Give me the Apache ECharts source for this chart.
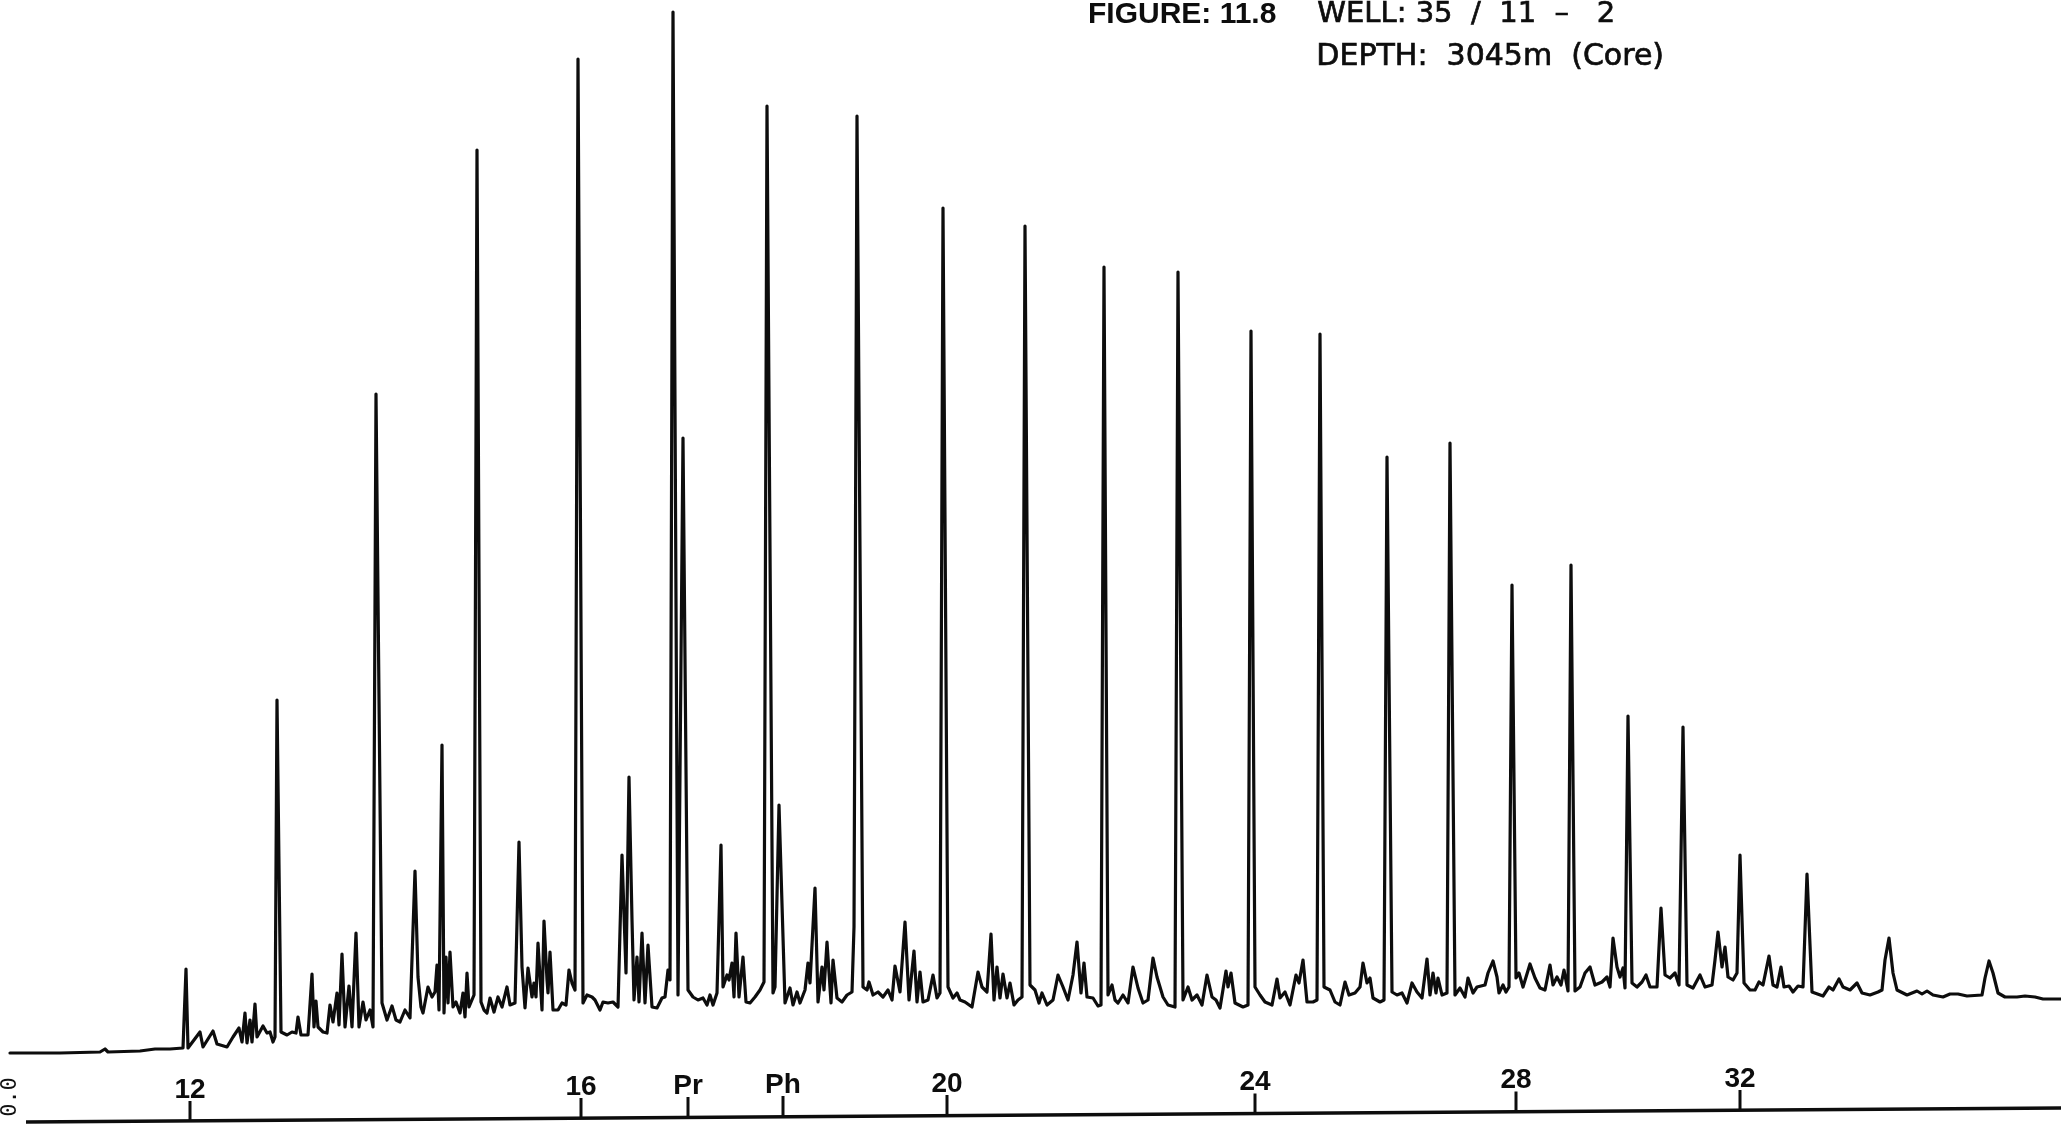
<!DOCTYPE html>
<html>
<head>
<meta charset="utf-8">
<script src="https://cdn.jsdelivr.net/npm/echarts@6/dist/echarts.min.js"></script>
<style>
html,body{margin:0;padding:0;background:#fff;}
#chart{width:2061px;height:1127px;}
</style>
</head>
<body>
<div id="chart"></div>
<script>
// Chromatogram trace: [retention position, detector response]
var trace = [
[10,74],[60,74],[100,75],[105,78],[108,75],[140,76],[155,78],[170,78],[183,79],
[186,158],[188,79],[200,95],[203,80],[213,96],[217,83],[227,80],[233,90],[239,99],[242,85],
[245,114],[247,84],[250,107],[252,85],[255,123],[257,90],[263,101],[267,94],[270,95],[273,85],[275,90],
[277,427],[281,95],[287,92],[292,95],[296,94],[298,110],[301,92],[308,92],[312,153],[314,100],
[316,126],[318,100],[323,95],[327,94],[330,122],[333,105],[337,134],[339,102],[342,173],[345,100],
[349,141],[352,100],[356,194],[359,100],[363,125],[366,107],[370,117],[373,100],
[376,733],[382,124],[387,107],[392,121],[396,107],[400,105],[405,117],[410,109],[415,256],[418,150],
[421,120],[423,114],[428,140],[432,130],[435,135],[437,162],[439,117],[442,382],[444,114],[446,170],
[448,124],[450,175],[453,120],[456,125],[460,114],[463,134],[465,110],[467,154],[469,120],[474,132],
[477,977],[481,125],[484,117],[487,114],[490,129],[494,115],[498,130],[502,120],[507,140],[510,122],[515,124],
[519,285],[522,160],[525,119],[528,159],[532,130],[534,144],[536,130],[538,184],[542,117],[544,206],
[547,147],[548,134],[550,175],[553,117],[558,117],[562,124],[566,122],[569,157],[572,144],[575,137],
[578,1068],[583,124],[587,132],[592,130],[595,127],[600,117],[603,125],[608,124],[613,125],[618,120],
[622,272],[626,154],[629,350],[632,207],[634,127],[637,170],[639,125],[642,194],[645,124],[648,182],
[652,120],[657,119],[662,129],[665,130],[668,157],[670,147],
[673,1115],[678,132],[683,689],[688,137],[693,130],[698,127],[703,129],[707,122],[710,132],[713,122],[717,134],
[721,282],[723,140],[727,152],[729,147],[732,164],[734,130],[736,194],[739,130],[743,170],[746,125],
[750,124],[755,130],[760,137],[764,145],
[767,1021],[773,134],[775,140],[779,322],[785,124],[790,139],[793,122],[797,135],[800,124],[805,137],
[808,164],[810,144],[815,239],[818,125],[822,160],[824,137],[827,185],[831,124],[833,167],[837,129],
[842,125],[847,132],[852,135],[854,200],
[857,1011],[863,140],[867,137],[869,145],[873,132],[878,135],[883,130],[888,137],[892,127],[895,161],
[900,135],[905,205],[909,127],[914,176],[917,125],[920,155],[923,125],[928,127],[933,152],[937,129],[940,134],
[943,919],[948,140],[953,129],[957,134],[960,127],[965,125],[972,120],[978,155],[982,140],[987,135],
[991,193],[994,127],[997,160],[1000,129],[1003,153],[1007,129],[1010,144],[1014,122],[1018,127],[1022,130],
[1025,901],[1030,142],[1035,137],[1039,124],[1042,134],[1047,122],[1053,127],[1058,152],[1063,140],[1068,127],
[1073,152],[1077,185],[1081,134],[1084,164],[1087,130],[1093,129],[1098,121],[1101,122],
[1104,860],[1108,132],[1112,142],[1115,127],[1118,124],[1123,132],[1128,124],[1133,160],[1138,139],[1143,124],
[1148,127],[1153,169],[1157,150],[1159,152],[1163,130],[1168,122],[1175,120],
[1178,855],[1183,127],[1188,140],[1192,127],[1197,132],[1202,122],[1207,152],[1212,130],[1216,127],[1220,119],
[1226,156],[1228,140],[1231,154],[1235,124],[1243,120],[1248,122],
[1251,796],[1255,140],[1260,132],[1265,125],[1272,122],[1277,148],[1280,129],[1285,135],[1290,122],[1296,152],
[1299,144],[1303,167],[1307,125],[1313,125],[1317,127],
[1320,793],[1324,140],[1330,137],[1335,125],[1340,122],[1345,145],[1349,132],[1355,134],[1360,140],[1363,164],
[1367,144],[1370,149],[1373,129],[1380,125],[1384,127],
[1387,670],[1392,135],[1397,132],[1402,134],[1407,124],[1412,144],[1417,135],[1422,129],[1427,168],[1430,132],
[1433,154],[1436,134],[1438,149],[1442,132],[1447,134],
[1450,684],[1455,132],[1460,139],[1465,130],[1468,149],[1470,147],[1473,134],[1477,140],[1485,142],[1488,154],
[1493,166],[1497,150],[1499,134],[1503,142],[1506,135],[1509,140],
[1512,542],[1516,149],[1519,154],[1523,140],[1530,163],[1535,149],[1540,139],[1545,137],[1550,162],[1553,142],
[1557,150],[1561,142],[1564,157],[1568,136],
[1571,562],[1575,136],[1580,140],[1585,154],[1590,160],[1595,142],[1602,145],[1607,150],[1610,140],[1613,189],
[1617,160],[1620,150],[1623,159],[1625,139],
[1628,411],[1632,144],[1637,140],[1642,145],[1646,152],[1650,140],[1657,140],[1661,219],[1665,152],[1670,149],
[1675,154],[1679,142],
[1683,400],[1687,142],[1693,139],[1700,152],[1705,140],[1712,142],[1715,167],[1718,195],[1722,160],[1725,180],
[1728,150],[1733,147],[1737,154],
[1740,272],[1744,144],[1750,137],[1755,137],[1759,145],[1763,142],[1769,171],[1773,142],[1777,140],[1781,160],
[1784,140],[1789,141],[1793,135],[1798,141],[1803,140],
[1807,253],[1812,135],[1823,131],[1829,140],[1833,137],[1839,148],[1843,140],[1850,137],[1857,144],[1862,134],
[1870,132],[1878,135],[1882,137],[1885,167],[1889,189],[1893,154],[1897,137],[1907,132],[1917,136],[1922,133],
[1927,136],[1933,132],[1943,130],[1950,133],[1958,133],[1967,131],[1982,132],[1985,149],[1989,166],[1993,154],
[1998,134],[2005,130],[2017,130],[2025,131],[2035,130],[2043,128],[2061,128]
];

// Baseline (time axis) drawn slanted on the recorder chart
var axisLineEnds = [[26, 5], [2061, 19]];

// Tick marks: position, response level where the tick meets the axis line, label
var tickPositions = [190, 581, 688, 783, 947, 1255, 1516, 1740];
var tickBases     = [6, 9, 10, 11, 12, 13.5, 15.5, 17];
var tickLabels    = ['12', '16', 'Pr', 'Ph', '20', '24', '28', '32'];

var titleLine1a = 'FIGURE: 11.8';
var titleLine1b = 'WELL: 35  /  11  \u2013   2';
var titleLine2  = 'DEPTH:  3045m  (Core)';
var zeroLabel   = '0.0';

var tickData = tickPositions.map(function (p, i) { return [p, tickBases[i], tickLabels[i]]; });

var chart = echarts.init(document.getElementById('chart'), null, {renderer: 'canvas'});
chart.setOption({
  animation: false,
  backgroundColor: '#ffffff',
  grid: {left: 0, right: 0, top: 0, bottom: 0},
  xAxis: {type: 'value', min: 0, max: 2061, show: false},
  yAxis: {type: 'value', min: 0, max: 1127, show: false},
  series: [
    {
      type: 'line',
      data: trace,
      showSymbol: false,
      symbol: 'none',
      lineStyle: {color: '#0d0d0d', width: 3.2, join: 'round', cap: 'round'},
      z: 3
    },
    {
      type: 'line',
      data: axisLineEnds,
      showSymbol: false,
      symbol: 'none',
      lineStyle: {color: '#0d0d0d', width: 3.4}
    },
    {
      type: 'custom',
      data: tickData,
      renderItem: function (params, api) {
        var p = api.coord([api.value(0), api.value(1)]);
        var label = tickLabels[params.dataIndex];
        return {
          type: 'group',
          children: [
            {type: 'line', shape: {x1: p[0], y1: p[1], x2: p[0], y2: p[1] - 20},
             style: {stroke: '#0d0d0d', lineWidth: 3}},
            {type: 'text', x: p[0], y: p[1] - 31,
             style: {text: label, fill: '#0d0d0d', font: 'bold 28px "Liberation Sans", Arial, sans-serif',
                     align: 'center', verticalAlign: 'middle'}}
          ]
        };
      }
    }
  ],
  graphic: [
    {type: 'text', left: 1088, top: 0,
     style: {text: titleLine1a, fill: '#0d0d0d', font: 'bold 30px "Liberation Sans", Arial, sans-serif'}},
    {type: 'text', left: 1317, top: 0,
     style: {text: titleLine1b, fill: '#0d0d0d', stroke: '#0d0d0d', lineWidth: 0.7,
             font: '29px "DejaVu Sans", sans-serif'}},
    {type: 'text', left: 1316, top: 42,
     style: {text: titleLine2, fill: '#0d0d0d', stroke: '#0d0d0d', lineWidth: 0.7,
             font: '30px "DejaVu Sans", sans-serif'}},
    {type: 'text', x: 10, y: 1097, rotation: Math.PI / 2,
     style: {text: zeroLabel, fill: '#111', font: '22px "DejaVu Sans Mono", monospace',
             align: 'center', verticalAlign: 'middle'}}
  ]
});
</script>
</body>
</html>
